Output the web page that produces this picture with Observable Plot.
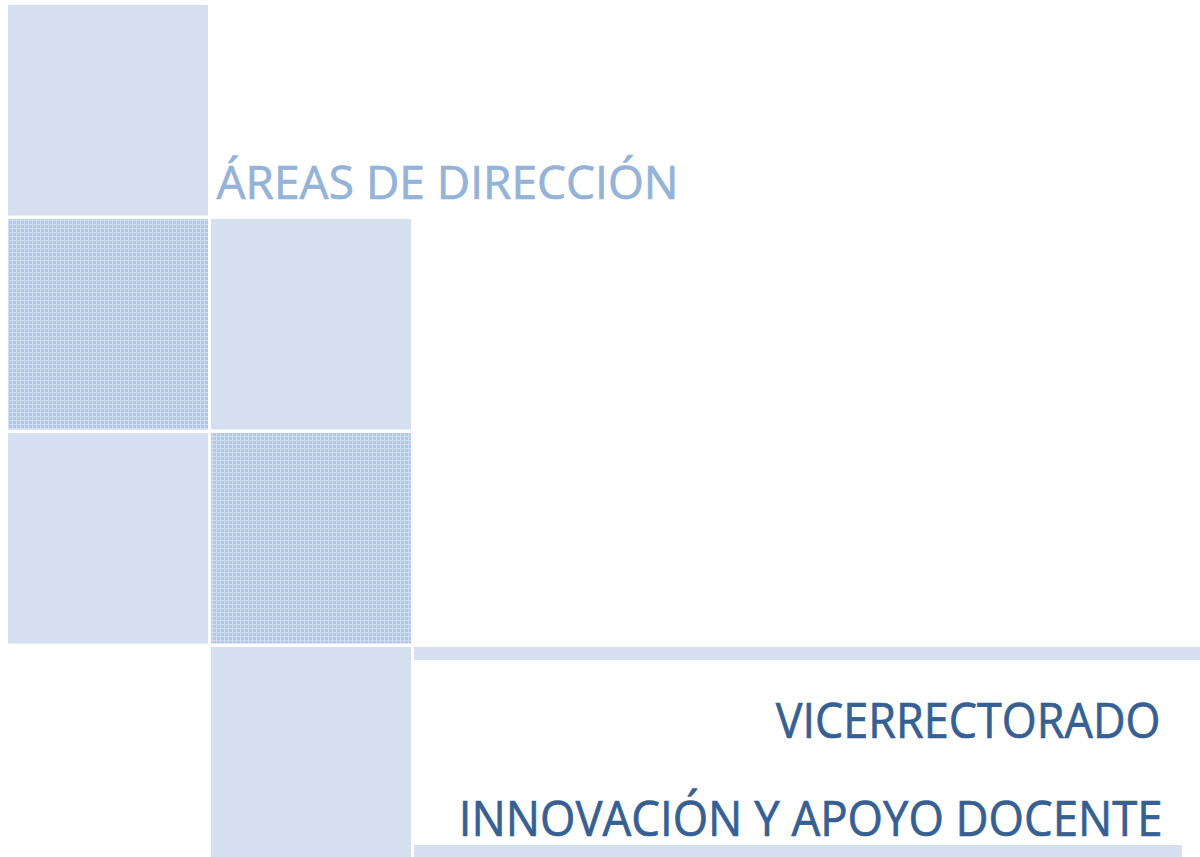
<!DOCTYPE html>
<html>
<head>
<meta charset="utf-8">
<script src="https://cdn.jsdelivr.net/npm/d3@7"></script>
<script src="https://cdn.jsdelivr.net/npm/@observablehq/plot@0.6"></script>
<style>
  html, body { margin: 0; padding: 0; background: #ffffff; }
  #chart svg { display: block; }
</style>
</head>
<body>
<div id="chart"></div>
<script>
// Grid tiles (column, row in grid units) and their style
const tileCol   = [0, 0, 1, 0, 1, 1];
const tileRow   = [0, 1, 1, 2, 2, 3];
const tileStyle = ["plain", "dots", "plain", "plain", "dots", "plain"];

// Horizontal bands (grid units)
const bandStart = [2, 2];
const bandEnd   = [5.872, 5.783];
const bandTop   = [3, 3.925];
const bandBot   = [3.061, 3.981];

// Texts
const labels      = ["ÁREAS DE DIRECCIÓN", "VICERRECTORADO", "INNOVACIÓN Y APOYO DOCENTE"];
const labelX      = [1.0246, 5.675, 5.685];
const labelY      = [0.839, 3.346, 3.804];
const labelAnchor = ["start", "end", "end"];
const labelColor  = ["#95b3d7", "#376092", "#376092"];
const labelSize   = [45, 50, 50];
const labelWidth  = [462, 385, 704];

const tiles = tileCol.map((c, i) => ({c, r: tileRow[i], s: tileStyle[i]}));
const bands = bandStart.map((s, i) => ({x1: s, x2: bandEnd[i], y1: bandTop[i], y2: bandBot[i]}));
const texts = labels.map((t, i) => ({t, x: labelX[i], y: labelY[i], a: labelAnchor[i], col: labelColor[i], fs: labelSize[i], w: labelWidth[i]}));

const plot = Plot.plot({
  width: 1200,
  height: 857,
  margin: 0,
  x: {domain: [0, 1], range: [8, 211], axis: null},
  y: {domain: [0, 1], range: [5, 219], axis: null},
  style: {background: "#ffffff"},
  marks: [
    Plot.rect(tiles.filter(d => d.s === "plain"), {
      x1: d => d.c, x2: d => d.c + 1,
      y1: d => d.r, y2: d => d.r + 1,
      insetRight: 3, insetBottom: 3.5,
      fill: "url(#plain)"
    }),
    Plot.rect(tiles.filter(d => d.s === "dots"), {
      x1: d => d.c, x2: d => d.c + 1,
      y1: d => d.r, y2: d => d.r + 1,
      insetRight: 3, insetBottom: 3.5,
      fill: "url(#dots)"
    }),
    Plot.rect(bands, {x1: "x1", x2: "x2", y1: "y1", y2: "y2", fill: "url(#plain)"}),
    ...texts.map(d => Plot.text([d], {
      x: "x", y: "y", text: "t",
      textAnchor: d.a, lineAnchor: "middle",
      fill: d.col, stroke: d.col, strokeWidth: 0.7,
      fontSize: d.fs, fontWeight: 400,
      fontFamily: "'Open Sans', sans-serif",
      className: "lbl"
    }))
  ]
});

document.getElementById("chart").appendChild(plot);

const svg = d3.select(plot);
const defs = svg.insert("defs", ":first-child");
const pd = defs.append("pattern").attr("id", "dots").attr("patternUnits", "userSpaceOnUse")
  .attr("width", 4).attr("height", 4);
pd.append("rect").attr("width", 4).attr("height", 4).attr("fill", "#b3c8e7");
pd.append("rect").attr("width", 4).attr("height", 1).attr("fill", "#d0dcef");
pd.append("rect").attr("width", 1).attr("height", 4).attr("fill", "#d0dcef");
const pp = defs.append("pattern").attr("id", "plain").attr("patternUnits", "userSpaceOnUse")
  .attr("width", 4).attr("height", 4);
pp.append("rect").attr("width", 4).attr("height", 4).attr("fill", "#d3deef");
pp.append("rect").attr("width", 2).attr("height", 2).attr("fill", "#d7e1f1");
pp.append("rect").attr("x", 2).attr("y", 2).attr("width", 2).attr("height", 2).attr("fill", "#d7e1f1");

// Condense each label horizontally so it spans the width seen in the reference
svg.selectAll(".lbl text").each(function(_, i) {
  const el = d3.select(this);
  el.attr("stroke-linejoin", "round");
  const w = this.getComputedTextLength();
  const sx = labelWidth[i] / w;
  const t = el.attr("transform") || "";
  el.attr("transform", `${t} scale(${sx},1)`);
});
</script>
</body>
</html>
